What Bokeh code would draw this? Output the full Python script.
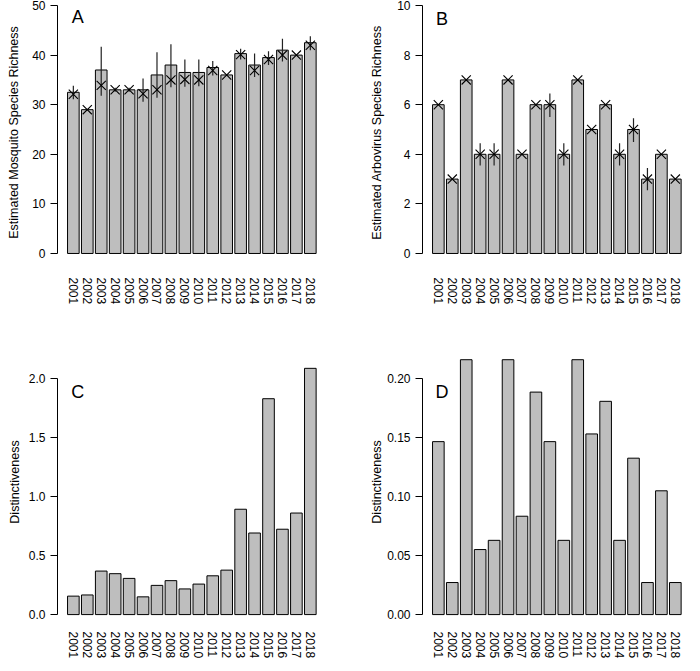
from bokeh.plotting import figure
from bokeh.layouts import column, row
from bokeh.models import (ColumnDataSource, FixedTicker, Range1d, Label,
                          NumeralTickFormatter)
from bokeh.embed import file_html
from bokeh.resources import INLINE

years = [str(y) for y in range(2001, 2019)]

# Panel A: estimated mosquito species richness
mosq_bar = [32.5, 29.0, 37.0, 33.0, 33.0, 33.0, 36.0, 38.0, 36.5, 36.5,
            37.5, 36.0, 40.3, 38.0, 39.5, 41.0, 40.0, 42.5]
mosq_pt = [32.1, 29.0, 33.9, 33.0, 33.0, 32.2, 33.0, 35.0, 35.1, 35.0,
           36.9, 36.0, 40.1, 36.9, 39.1, 40.0, 40.0, 42.0]
mosq_lo = [31.1, 29.0, 31.8, 32.6, 32.6, 30.6, 31.4, 33.5, 33.6, 33.7,
           35.9, 36.0, 39.1, 35.6, 38.0, 38.7, 40.0, 41.0]
mosq_hi = [33.8, 29.0, 41.7, 33.4, 33.4, 35.3, 40.6, 42.2, 39.1, 39.1,
           38.8, 36.0, 41.3, 40.3, 40.8, 43.3, 40.0, 43.8]

# Panel B: estimated arbovirus species richness
arbo_bar = [6, 3, 7, 4, 4, 7, 4, 6, 6, 4, 7, 5, 6, 4, 5, 3, 4, 3]
arbo_pt = [6, 3, 7, 4, 4, 7, 4, 6, 6, 4, 7, 5, 6, 4, 5, 3, 4, 3]
arbo_lo = [6, 3, 7, 3.55, 3.55, 7, 4, 6, 5.5, 3.55, 7, 5, 6, 3.55, 4.5, 2.55, 4, 3]
arbo_hi = [6, 3, 7, 4.45, 4.45, 7, 4, 6, 6.45, 4.45, 7, 5, 6, 4.45, 5.45, 3.45, 4, 3]

# Panel C: mosquito distinctiveness
dist_c = [0.156, 0.166, 0.368, 0.346, 0.306, 0.150, 0.247, 0.287, 0.217,
          0.258, 0.328, 0.376, 0.891, 0.690, 1.826, 0.722, 0.859, 2.083]

# Panel D: arbovirus distinctiveness
dist_d = [0.1463, 0.0271, 0.2156, 0.0550, 0.0628, 0.2156, 0.0832, 0.1882,
          0.1463, 0.0628, 0.2156, 0.1528, 0.1804, 0.0628, 0.1323, 0.0271,
          0.1047, 0.0271]

ticks_a = [0, 10, 20, 30, 40, 50]
ticks_b = [0, 2, 4, 6, 8, 10]
ticks_c = [0, 0.5, 1.0, 1.5, 2.0]
ticks_d = [0, 0.05, 0.10, 0.15, 0.20]

centers = [0.7 + 1.2 * i for i in range(len(years))]

FONT = "Liberation Sans"


def make_panel(width, height, left, right, top, bottom, xr, yr,
               ylabel, yticks, fmt, als, xstand, letter, lx, ly):
    p = figure(width=width, height=height, output_backend="svg",
               toolbar_location=None, x_range=Range1d(*xr),
               y_range=Range1d(*yr), min_border_left=left,
               min_border_right=right, min_border_top=top,
               min_border_bottom=bottom)
    p.xgrid.visible = False
    p.ygrid.visible = False
    p.outline_line_color = None
    p.background_fill_color = "white"
    p.border_fill_color = "white"

    xa = p.xaxis[0]
    xa.ticker = FixedTicker(ticks=centers)
    xa.major_label_overrides = {c: y for c, y in zip(centers, years)}
    xa.axis_line_color = None
    xa.major_tick_line_color = None
    xa.minor_tick_line_color = None
    xa.major_tick_out = 0
    xa.major_tick_in = 0
    xa.major_label_orientation = "vertical"
    xa.major_label_standoff = xstand
    xa.major_label_text_font = FONT
    xa.major_label_text_font_size = "12px"
    xa.major_label_text_color = "black"

    ya = p.yaxis[0]
    ya.ticker = FixedTicker(ticks=yticks)
    ya.formatter = NumeralTickFormatter(format=fmt)
    ya.bounds = (yticks[0], yticks[-1])
    ya.axis_line_color = "black"
    ya.major_tick_line_color = "black"
    ya.minor_tick_line_color = None
    ya.major_tick_in = 0
    ya.major_tick_out = 7
    ya.major_label_standoff = 5
    ya.major_label_text_font = FONT
    ya.major_label_text_font_size = "12px"
    ya.major_label_text_color = "black"
    ya.axis_label = ylabel
    ya.axis_label_text_font = FONT
    ya.axis_label_text_font_size = "12.5px"
    ya.axis_label_text_font_style = "normal"
    ya.axis_label_text_color = "black"
    ya.axis_label_standoff = als

    p.add_layout(Label(x=lx, y=ly, text=letter, text_font=FONT,
                       text_font_size="18px", text_align="center",
                       text_baseline="middle", text_color="black"))
    return p


def add_bars(p, vals):
    src = ColumnDataSource(dict(x=centers, top=vals))
    p.vbar(x="x", top="top", bottom=0, width=1.0, source=src,
           fill_color="#bebebe", line_color="black", line_width=1)


def add_points(p, pts, lo, hi):
    src = ColumnDataSource(dict(x=centers, y=pts, lo=lo, hi=hi))
    p.segment(x0="x", y0="lo", x1="x", y1="hi", source=src,
              line_color="#222222", line_width=1.2)
    p.scatter(x="x", y="y", source=src, marker="x", size=13,
              line_color="black", line_width=1.1)


LW, RW = 342, 342
TH, BH = 336, 327

pA = make_panel(LW, TH, 57, 14, 1, 73, (-0.664, 22.664), (-2.02, 50.81),
                "Estimated Mosquito Species Richness", ticks_a, "0", 8, 14,
                "A", 1.07, 47.7)
add_bars(pA, mosq_bar)
add_points(pA, mosq_pt, mosq_lo, mosq_hi)

pB = make_panel(RW, TH, 80, 0, 1, 73, (-0.664, 21.89), (-0.404, 10.162),
                "Estimated Arbovirus Species Richness", ticks_b, "0", 10, 14,
                "B", 1.02, 9.44)
add_bars(pB, arbo_bar)
add_points(pB, arbo_pt, arbo_lo, arbo_hi)

pC = make_panel(LW, BH, 57, 14, 5, 41, (-0.664, 22.664), (-0.067, 2.31),
                "Distinctiveness", ticks_c, "0.0", 4, 9, "C", 1.07, 1.886)
add_bars(pC, dist_c)

pD = make_panel(RW, BH, 80, 0, 5, 41, (-0.664, 21.89), (-0.0067, 0.231),
                "Distinctiveness", ticks_d, "0.00", 0, 9, "D", 1.02, 0.1886)
add_bars(pD, dist_d)

layout = column(row(pA, pB), row(pC, pD))

open("out.html", "w").write(file_html(layout, INLINE))
